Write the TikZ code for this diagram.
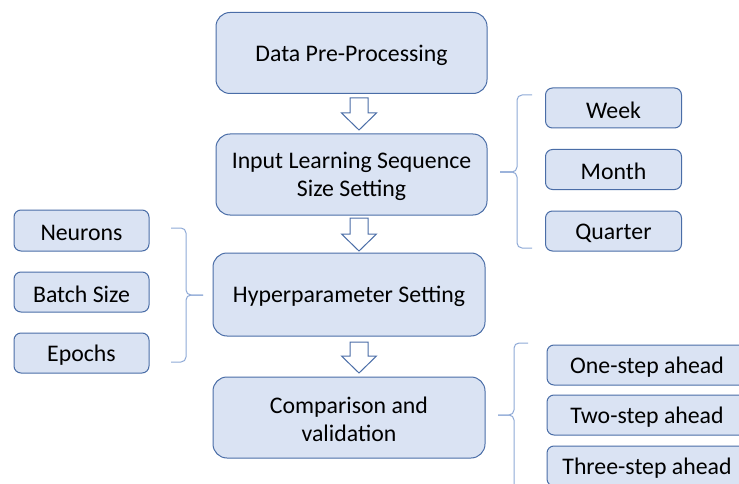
\documentclass[tikz,border=0pt]{standalone}
\usepackage{fontspec}
\setmainfont{Carlito}
\definecolor{boxfill}{HTML}{DAE3F3}
\definecolor{boxline}{HTML}{4A6DA7}
\definecolor{bracecol}{HTML}{8EA9D6}
\tikzset{
  mainbox/.style={draw=boxline, fill=boxfill, line width=1pt, rounded corners=14pt,
    minimum width=271pt, minimum height=81pt, align=center, inner sep=0pt,
    font=\fontsize{23.8}{28.5}\selectfont},
  smallbox/.style={draw=boxline, fill=boxfill, line width=1pt, rounded corners=7pt,
    minimum width=136pt, minimum height=40pt, inner sep=0pt,
    font=\fontsize{23.8}{28.5}\selectfont},
  blockarrow/.style={draw=boxline, fill=white, line width=1pt, line join=miter},
  bracestyle/.style={draw=bracecol, line width=1pt, rounded corners=5pt}
}
\newcommand{\blkarrow}[3]{% x, ytop, ytip
  \draw[blockarrow] (#1-9,#2) -- (#1+9,#2) -- (#1+9,#3-17) -- (#1+17.5,#3-17)
    -- (#1,#3) -- (#1-17.5,#3-17) -- (#1-9,#3-17) -- cycle;}
\begin{document}
\begin{tikzpicture}[x=1pt,y=-1pt]
\useasboundingbox (0,0) rectangle (739,484);
\clip (0,0) rectangle (739,484);
% main column
\node[mainbox] (dpp) at (351.5,53) {};
\node at ([yshift=-2pt]dpp.center) [font=\fontsize{23.8}{28.5}\selectfont] {Data Pre-Processing};
\node[mainbox] (ils) at (351.5,174.5) {};
\node at ([yshift=-2pt]ils.center) [align=center, font=\fontsize{23.8}{28.5}\selectfont] {Input Learning Sequence\\Size Setting};
\node[mainbox, minimum width=272pt, minimum height=83pt] (hps) at (349,294.5) {};
\node at ([yshift=-2pt]hps.center) [font=\fontsize{23.8}{28.5}\selectfont] {Hyperparameter Setting};
\node[mainbox, minimum width=272pt, minimum height=81pt] (cav) at (349,417.5) {};
\node at ([yshift=-2pt]cav.center) [align=center, font=\fontsize{23.8}{28.5}\selectfont] {Comparison and\\validation};
% block arrows
\blkarrow{359}{98}{130}
\blkarrow{359}{218}{251}
\blkarrow{359}{342}{373}
% right group 1
\node[smallbox] (week) at (613.5,108) {};
\node at ([yshift=-2pt]week.center) [font=\fontsize{23.8}{28.5}\selectfont] {Week};
\node[smallbox] (month) at (613.5,169.5) {};
\node at ([yshift=-2pt]month.center) [font=\fontsize{23.8}{28.5}\selectfont] {Month};
\node[smallbox] (quarter) at (613.5,231) {};
\node at ([yshift=-2pt]quarter.center) [font=\fontsize{23.8}{28.5}\selectfont] {Quarter};
% left group
\node[smallbox, minimum width=135pt, minimum height=41pt] (neur) at (81.5,230.5) {};
\node at ([yshift=-2pt]neur.center) [font=\fontsize{23.8}{28.5}\selectfont] {Neurons};
\node[smallbox, minimum width=135pt] (batch) at (81.5,292) {};
\node at ([yshift=-2pt]batch.center) [font=\fontsize{23.8}{28.5}\selectfont] {Batch Size};
\node[smallbox, minimum width=135pt] (epoch) at (81.5,353) {};
\node at ([yshift=-2pt]epoch.center) [font=\fontsize{23.8}{28.5}\selectfont] {Epochs};
% bottom right group
\node[smallbox, minimum width=200pt] (one) at (647,365) {};
\node at ([yshift=-2pt]one.center) [font=\fontsize{23.8}{28.5}\selectfont] {One-step ahead};
\node[smallbox, minimum width=200pt] (two) at (647,415) {};
\node at ([yshift=-2pt]two.center) [font=\fontsize{23.8}{28.5}\selectfont] {Two-step ahead};
\node[smallbox, minimum width=200pt] (three) at (647,466) {};
\node at ([yshift=-2pt]three.center) [font=\fontsize{23.8}{28.5}\selectfont] {Three-step ahead};
% braces
\draw[bracestyle] (532,95) -- (517,95) -- (517,172) -- (500,172);
\draw[bracestyle] (500,172) -- (517,172) -- (517,248) -- (532,248);
\draw[bracestyle] (171,228) -- (186,228) -- (186,295) -- (203,295);
\draw[bracestyle] (203,295) -- (186,295) -- (186,362) -- (171,362);
\draw[bracestyle] (528,343) -- (514,343) -- (514,415) -- (498,415);
\draw[bracestyle] (498,415) -- (514,415) -- (514,500);
\end{tikzpicture}
\end{document}
